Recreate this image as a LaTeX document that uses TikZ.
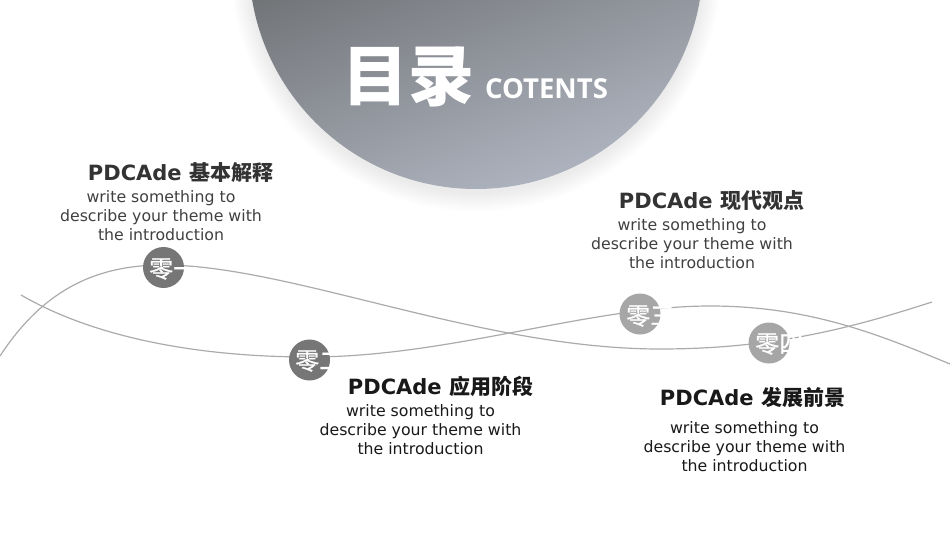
\documentclass[tikz,border=0pt]{standalone}
\usepackage{fontspec}
\setmainfont{DejaVu Sans}
\newfontfamily\cjk{Noto Sans CJK SC}
\newfontfamily\cjkmid[FakeBold=1]{Noto Sans CJK SC}
\newfontfamily\latinhead{Open Sans}
\usetikzlibrary{positioning}
\definecolor{darkbadge}{HTML}{767676}
\definecolor{lightbadge}{HTML}{A6A6A6}
\definecolor{wave}{HTML}{ABABAB}
\definecolor{discdark}{HTML}{6E7073}
\definecolor{disclight}{HTML}{B2B8C4}
\tikzset{
  head/.style={font=\fontsize{21}{24}\selectfont\bfseries, inner sep=0pt},
  blurb/.style={font=\fontsize{15.75}{19}\selectfont, align=center, inner sep=0pt},
  badge/.style={circle, minimum size=41pt, inner sep=0pt},
  badge text/.style={font=\fontsize{24}{24}\selectfont\cjkmid, text=white, inner sep=0pt, anchor=west},
  wave line/.style={draw=wave, line width=1.2pt}
}
\newcommand{\pdca}[1]{PDCAde {\cjk\bfseries #1}}
\newcommand{\blurbtext}{write something to\\describe your theme with\\the introduction}
\begin{document}
\begin{tikzpicture}[x=1pt,y=-1pt]
  \useasboundingbox (0,0) rectangle (950,535);
  \fill[white] (0,0) rectangle (950,535);

  % big disc with soft shadow
  \begin{scope}
    \clip (0,0) rectangle (950,535);
    \foreach \r in {1,...,20}
      \fill[black, opacity=0.005] (476,-34) circle ({247-\r});
    \clip (476,-38) circle (227);
    \shade[shading=axis, left color=discdark, right color=disclight, shading angle=20]
      (240,-60) rectangle (710,190);
  \end{scope}

  \node[inner sep=0pt, text=white, font=\fontsize{66}{66}\selectfont\cjk\bfseries] (title) at (408,77) {目录};
  \node[inner sep=0pt, text=white, font=\fontsize{27.5}{28}\selectfont\latinhead\bfseries] (subtitle) at (546.5,89) {COTENTS};

  % waves
  \draw[wave line] (0,356) .. controls (40,295) and (90,265) .. (163,265)
    .. controls (290,265) and (480,349) .. (660,349)
    .. controls (780,349) and (860,325) .. (932,302);
  \draw[wave line] (21,295) .. controls (90,335) and (190,357) .. (310,357)
    .. controls (450,357) and (590,306) .. (710,306)
    .. controls (810,306) and (880,335) .. (950,364);

  % badges
  \node[badge, fill=darkbadge] (b1) at (163.5,267.5) {};
  \node[badge, fill=darkbadge] (b2) at (309.5,360) {};
  \node[badge, fill=lightbadge] (b3) at (640,314) {};
  \node[badge, fill=lightbadge] (b4) at (769,343) {};
  \node[badge text] (n1) at (149,269) {零一};
  \node[badge text] (n2) at (295,361) {零二};
  \node[badge text] (n3) at (626,316) {零三};
  \node[badge text] (n4) at (755,344) {零四};

  % labels
  \node[head, text=black!80] (h1) at (180.5,172.5) {\pdca{基本解释}};
  \node[blurb, text=black!75] (d1) at (161,216) {\blurbtext};
  \node[head, text=black!90] (h2) at (440.5,386.5) {\pdca{应用阶段}};
  \node[blurb, text=black!90] (d2) at (420.5,430) {\blurbtext};
  \node[head, text=black!80] (h3) at (711.5,200.5) {\pdca{现代观点}};
  \node[blurb, text=black!75] (d3) at (692,244) {\blurbtext};
  \node[head, text=black!90] (h4) at (752.5,397.5) {\pdca{发展前景}};
  \node[blurb, text=black!90] (d4) at (744.5,447) {\blurbtext};
\end{tikzpicture}
\end{document}
